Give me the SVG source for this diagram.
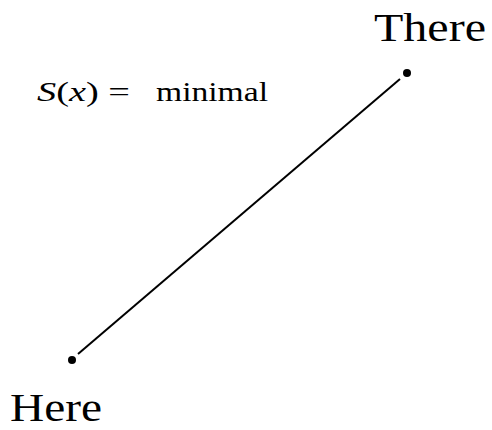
<svg xmlns="http://www.w3.org/2000/svg" width="492" height="430" viewBox="0 0 492 430">
<style>
.lbl{font-family:"Liberation Serif","DejaVu Serif",serif;fill:#000}
.big{font-size:40px}
.math{font-size:27px}
.pt{fill:#000}
</style>
<rect width="492" height="430" fill="#fff"/>
<g id="connectors">
<line x1="400" y1="79" x2="78" y2="354" stroke="#000" stroke-width="2"/>
</g>
<g id="there">
<circle class="pt" cx="407" cy="73" r="4"/>
<text class="lbl big" x="374" y="41" textLength="112" lengthAdjust="spacingAndGlyphs">There</text>
</g>
<g id="here">
<circle class="pt" cx="72" cy="360" r="4"/>
<text class="lbl big" x="10" y="421" textLength="92" lengthAdjust="spacingAndGlyphs">Here</text>
</g>
<g id="formula">
<text class="lbl math" x="37" y="101" textLength="93" lengthAdjust="spacingAndGlyphs"><tspan font-style="italic">S</tspan>(<tspan font-style="italic">x</tspan>) =</text>
<text class="lbl math" x="156" y="101" textLength="112" lengthAdjust="spacingAndGlyphs">minimal</text>
</g>
</svg>
